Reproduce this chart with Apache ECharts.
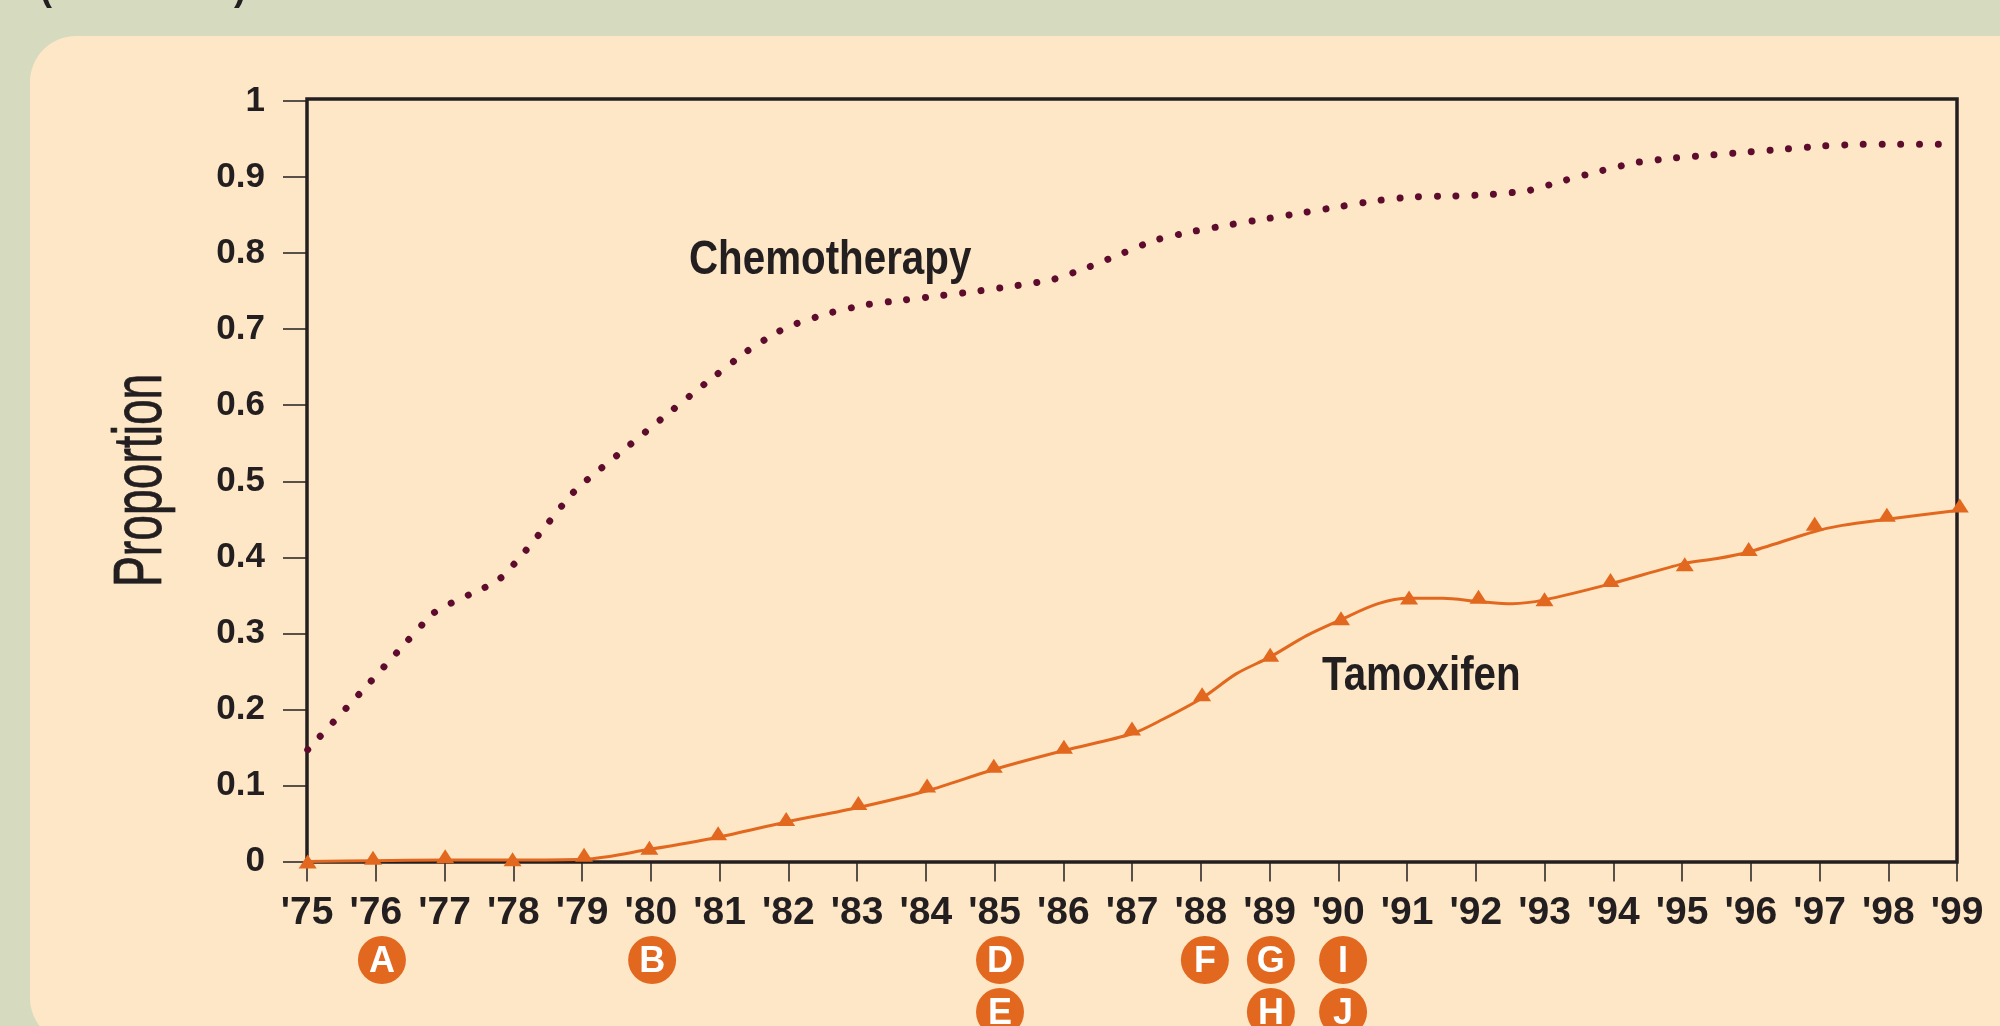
<!DOCTYPE html>
<html>
<head>
<meta charset="utf-8">
<title>Chemotherapy and tamoxifen</title>
<script src="https://cdn.jsdelivr.net/npm/echarts@6/dist/echarts.min.js"></script>
<style>
  html, body { margin: 0; padding: 0; background: #d6dbc0; }
  #chart { width: 2000px; height: 1026px; }
</style>
</head>
<body>
<div id="chart"></div>
<script>
// x is in fractional years since the points sit a bit off the ticks
var chemoYears = [1975.01, 1975.84, 1976.33, 1976.83, 1977.06, 1977.53, 1977.76, 1977.94, 1978.10, 1978.41, 1978.71, 1978.87, 1979.05, 1979.63, 1980.21, 1980.80, 1981.40, 1981.84, 1982.08, 1982.59, 1983.12, 1983.65, 1984.21, 1984.75, 1985.30, 1985.84, 1986.35, 1986.84, 1987.33, 1987.86, 1988.40, 1988.94, 1989.48, 1990.01, 1990.56, 1991.10, 1991.65, 1992.21, 1992.76, 1993.27, 1993.81, 1994.33, 1994.87, 1995.42, 1995.97, 1996.52, 1997.07, 1997.62, 1998.17, 1998.75];
var chemoValues = [0.147, 0.228, 0.277, 0.326, 0.338, 0.358, 0.368, 0.384, 0.400, 0.434, 0.468, 0.485, 0.500, 0.543, 0.586, 0.629, 0.671, 0.696, 0.706, 0.721, 0.732, 0.738, 0.744, 0.750, 0.757, 0.765, 0.781, 0.799, 0.817, 0.828, 0.837, 0.845, 0.853, 0.861, 0.869, 0.874, 0.875, 0.877, 0.882, 0.895, 0.908, 0.919, 0.925, 0.929, 0.933, 0.937, 0.941, 0.943, 0.943, 0.943];

var tamoxLineYears = [1975, 1975.96, 1977.01, 1977.99, 1979.03, 1979.98, 1980.98, 1981.97, 1983.02, 1984.02, 1984.99, 1986.01, 1987.0, 1987.45, 1988.02, 1988.52, 1989.01, 1989.54, 1990.04, 1990.58, 1991.03, 1991.52, 1992.04, 1992.53, 1993.0, 1993.96, 1995.04, 1995.49, 1995.97, 1996.93, 1997.33, 1997.98, 1999.04];
var tamoxLineValues = [0, 0.001, 0.002, 0.002, 0.003, 0.016, 0.032, 0.052, 0.071, 0.093, 0.121, 0.146, 0.168, 0.187, 0.215, 0.247, 0.269, 0.297, 0.318, 0.339, 0.346, 0.346, 0.342, 0.339, 0.344, 0.365, 0.392, 0.398, 0.407, 0.434, 0.442, 0.450, 0.462];

var tamoxMarkYears = [1975.01, 1975.96, 1977.01, 1977.99, 1979.03, 1979.98, 1980.98, 1981.97, 1983.02, 1984.02, 1984.99, 1986.01, 1987.0, 1988.02, 1989.01, 1990.04, 1991.03, 1992.04, 1993.0, 1993.96, 1995.04, 1995.97, 1996.93, 1997.98, 1999.04];
var tamoxMarkValues = [0, 0.005, 0.007, 0.003, 0.009, 0.018, 0.037, 0.056, 0.077, 0.100, 0.126, 0.151, 0.175, 0.220, 0.272, 0.320, 0.347, 0.348, 0.345, 0.370, 0.391, 0.411, 0.444, 0.456, 0.468];

// lettered events under the axis, row 1 is the upper one
var eventLetters = ['A', 'B', 'D', 'E', 'F', 'G', 'H', 'I', 'J'];
var eventYears = [1976.09, 1980.02, 1985.08, 1985.08, 1988.06, 1989.02, 1989.02, 1990.07, 1990.07];
var eventRows = [1, 1, 1, 0, 1, 1, 0, 1, 0];

var yTicks = ['0', '0.1', '0.2', '0.3', '0.4', '0.5', '0.6', '0.7', '0.8', '0.9', '1'];

var ink = '#231f20';
var orange = '#e2681f';
var plum = '#5e0c2d';
var sans = '"Liberation Sans", Arial, sans-serif';

function zip(xs, ys) {
  return xs.map(function (x, i) { return [x, ys[i]]; });
}

var chart = echarts.init(document.getElementById('chart'));

chart.setOption({
  backgroundColor: '#d6dbc0',
  animation: false,
  grid: [
    { left: 307, top: 101, width: 1650, height: 760.5 },
    { left: 307, top: 960, width: 1650, height: 52 }
  ],
  xAxis: [
    {
      type: 'value',
      gridIndex: 0,
      min: 1975,
      max: 1999,
      interval: 1,
      splitLine: { show: false },
      axisLine: { show: false },
      axisTick: { length: 20, lineStyle: { color: ink, width: 1.5 } },
      axisLabel: {
        margin: 32,
        color: ink,
        fontFamily: sans,
        fontWeight: 'bold',
        fontSize: 39,
        showMinLabel: true,
        showMaxLabel: true,
        formatter: function (v) { return "'" + String(v).slice(2); }
      }
    },
    { type: 'value', gridIndex: 1, min: 1975, max: 1999, show: false }
  ],
  yAxis: [
    {
      type: 'value',
      gridIndex: 0,
      min: 0,
      max: 1,
      interval: 0.1,
      splitLine: { show: false },
      axisLine: { show: false },
      axisTick: { length: 24, lineStyle: { color: ink, width: 1.5 } },
      axisLabel: {
        margin: 42,
        color: ink,
        fontFamily: sans,
        fontWeight: 'bold',
        fontSize: 35,
        showMinLabel: true,
        showMaxLabel: true,
        formatter: function (v) { return yTicks[Math.round(v * 10)]; }
      }
    },
    { type: 'value', gridIndex: 1, min: 0, max: 1, show: false }
  ],
  series: [
    {
      name: 'Chemotherapy',
      type: 'line',
      data: zip(chemoYears, chemoValues),
      smooth: 0.15,
      symbol: 'none',
      clip: false,
      lineStyle: { color: plum, width: 7, cap: 'round', type: [0.01, 18.72] }
    },
    {
      name: 'Tamoxifen',
      type: 'line',
      data: zip(tamoxLineYears, tamoxLineValues),
      smooth: 0.3,
      symbol: 'none',
      clip: false,
      lineStyle: { color: orange, width: 3 }
    },
    {
      name: 'Tamoxifen points',
      type: 'scatter',
      data: zip(tamoxMarkYears, tamoxMarkValues),
      symbol: 'triangle',
      symbolSize: [18, 14],
      clip: false,
      itemStyle: { color: orange, opacity: 1 }
    },
    {
      name: 'Events',
      type: 'scatter',
      xAxisIndex: 1,
      yAxisIndex: 1,
      data: eventYears.map(function (y, i) {
        return { value: [y, eventRows[i]], name: eventLetters[i] };
      }),
      symbol: 'circle',
      symbolSize: 48,
      clip: false,
      itemStyle: { color: orange, opacity: 1 },
      label: {
        show: true,
        position: 'inside',
        offset: [0, 2],
        formatter: '{b}',
        color: '#ffffff',
        fontFamily: sans,
        fontWeight: 'bold',
        fontSize: 36
      }
    }
  ],
  graphic: [
    // panel runs off the right and bottom of the page
    {
      type: 'rect',
      z: -10,
      silent: true,
      shape: { x: 30, y: 36, width: 2100, height: 1008, r: 46 },
      style: { fill: '#fee7c6' }
    },
    // plot frame sits a touch above the 1.0 tick
    {
      type: 'rect',
      z: 1,
      silent: true,
      shape: { x: 307, y: 99, width: 1650, height: 763 },
      style: { fill: null, stroke: ink, lineWidth: 3.5 }
    },
    // no narrow face installed, so the labels are squeezed with scaleX
    {
      type: 'text',
      z: 5,
      silent: true,
      x: 689,
      y: 237,
      scaleX: 0.84,
      style: { text: 'Chemotherapy', fill: ink, font: 'bold 48px ' + sans }
    },
    {
      type: 'text',
      z: 5,
      silent: true,
      x: 1322,
      y: 653,
      scaleX: 0.84,
      style: { text: 'Tamoxifen', fill: ink, font: 'bold 48px ' + sans }
    },
    {
      type: 'text',
      z: 5,
      silent: true,
      x: 108,
      y: 587,
      rotation: Math.PI / 2,
      scaleX: 0.68,
      style: { text: 'Proportion', fill: ink, stroke: ink, lineWidth: 0.8, font: '68px ' + sans }
    },
    // only the bottoms of the brackets from the heading above show on this crop
    {
      type: 'text',
      z: 5,
      silent: true,
      x: 40,
      y: 8,
      style: { text: '(', fill: ink, font: 'bold 36px ' + sans, verticalAlign: 'bottom' }
    },
    {
      type: 'text',
      z: 5,
      silent: true,
      x: 234,
      y: 8,
      style: { text: ')', fill: ink, font: 'bold 36px ' + sans, verticalAlign: 'bottom' }
    }
  ]
});
</script>
</body>
</html>
